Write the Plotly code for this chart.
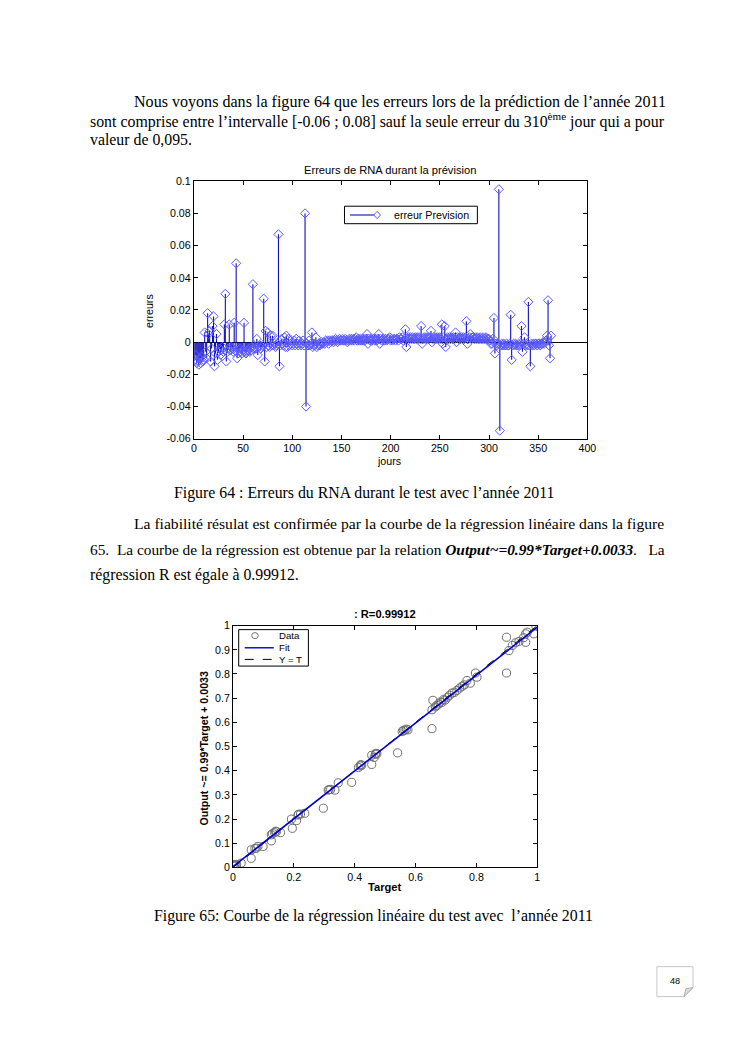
import plotly.graph_objects as go

W, H = 744, 1053

# ---------------- data: figure 64 (prediction errors per day) ----------------
errors = [
    -0.011, -0.008, -0.013, -0.012, -0.014, -0.010, -0.013, -0.009, -0.012, -0.011,
    0.006, -0.006, -0.010, 0.018, 0.005, 0.007, -0.012, -0.004, 0.010, 0.016,
    -0.015, -0.007, 0.005, -0.011, -0.006, -0.004, -0.008, -0.005, -0.003, -0.006,
    0.011, 0.030, -0.012, -0.006, -0.004, 0.011, -0.005, -0.003, -0.004, -0.006,
    0.012, -0.005, 0.049, -0.010, -0.007, -0.005, -0.004, -0.006, -0.007, -0.005,
    0.012, -0.006, -0.007, -0.006, -0.005, -0.004, -0.006, -0.005, -0.003, 0.036,
    -0.004, -0.003, -0.004, 0.002, -0.008, -0.003, -0.002, -0.004, -0.003, -0.002,
    0.027, -0.012, 0.007, -0.003, 0.006, -0.002, -0.003, 0.004, -0.002, 0.004,
    -0.002, -0.001, -0.003, -0.002, -0.001, 0.067, -0.015, -0.002, 0.002, -0.001,
    -0.002, 0.003, -0.003, 0.004, -0.003, 0.002, -0.002, -0.001, 0.001, -0.002,
    -0.001, 0.001, -0.002, 0.002, -0.001, -0.002, 0.001, -0.001, -0.002, -0.001,
    0.001, -0.002, 0.080, -0.040, -0.001, -0.002, 0.001, -0.002, -0.001, 0.006,
    -0.003, -0.002, -0.001, 0.003, -0.003, -0.002, -0.001, -0.002, -0.001, 0.000,
    -0.001, 0.000, -0.001, 0.001, 0.000, 0.001, -0.001, 0.001, 0.000, 0.001,
    0.001, 0.000, 0.001, 0.002, 0.001, 0.000, 0.001, 0.002, 0.001, 0.001,
    0.002, 0.001, 0.001, 0.002, 0.001, 0.000, 0.001, 0.002, 0.001, 0.002,
    0.001, 0.002, 0.001, 0.002, 0.003, 0.001, 0.002, 0.001, 0.002, 0.001,
    0.002, 0.001, 0.002, 0.001, 0.002, 0.005, -0.001, 0.002, 0.001, 0.002,
    0.001, 0.002, 0.002, 0.001, 0.002, 0.001, 0.002, 0.005, -0.001, 0.002,
    0.001, 0.002, 0.002, 0.001, 0.002, 0.001, 0.002, 0.002, 0.003, 0.001,
    0.002, 0.001, 0.002, 0.002, 0.001, 0.002, 0.002, 0.001, 0.003, 0.002,
    0.002, 0.003, 0.001, 0.002, 0.008, -0.003, 0.002, 0.003, 0.002, 0.003,
    0.002, 0.003, 0.002, 0.002, 0.003, 0.002, 0.003, 0.002, 0.003, 0.002,
    0.010, -0.001, 0.002, 0.003, 0.002, 0.003, 0.002, 0.003, 0.002, 0.003,
    0.007, 0.000, 0.002, 0.003, 0.002, 0.003, 0.002, 0.003, 0.002, 0.003,
    0.002, 0.011, -0.001, 0.003, 0.010, -0.003, 0.002, 0.003, 0.002, 0.003,
    0.002, 0.003, 0.002, 0.003, 0.002, 0.006, 0.000, 0.003, 0.002, 0.003,
    0.002, 0.003, 0.002, 0.003, 0.002, 0.003, 0.013, -0.001, 0.002, 0.003,
    0.005, 0.002, 0.003, 0.003, 0.002, 0.003, 0.002, 0.003, 0.002, 0.002,
    0.003, 0.002, 0.002, 0.003, 0.002, 0.002, 0.003, 0.002, 0.002, 0.002,
    0.001, -0.001, -0.001, 0.002, 0.015, -0.007, -0.001, -0.002, -0.001, 0.095,
    -0.055, -0.002, -0.001, -0.002, -0.001, -0.002, -0.002, -0.001, -0.002, -0.002,
    -0.001, 0.017, -0.011, -0.002, -0.001, -0.002, -0.001, -0.002, -0.002, -0.001,
    -0.002, -0.001, 0.010, -0.006, -0.001, 0.003, -0.002, -0.001, -0.002, 0.025,
    -0.002, -0.015, -0.001, -0.002, -0.001, -0.002, -0.001, -0.001, -0.002, -0.001,
    -0.001, -0.002, -0.001, -0.001, 0.000, -0.001, 0.000, 0.001, 0.004, 0.026,
    -0.002, -0.010, 0.004,
]
days = list(range(1, len(errors) + 1))
err_yticks = [0.1, 0.08, 0.06, 0.04, 0.02, 0, -0.02, -0.04, -0.06]
err_yticklabels = ["0.1", "0.08", "0.06", "0.04", "0.02", "0", "-0.02", "-0.04", "-0.06"]
err_xticks = [0, 50, 100, 150, 200, 250, 300, 350, 400]

# ---------------- data: figure 65 (regression) ----------------
target = [0.000, 0.003, 0.006, 0.010, 0.012, 0.027, 0.060, 0.060, 0.072, 0.077,
          0.082, 0.099, 0.126, 0.126, 0.130, 0.137, 0.140, 0.143, 0.156, 0.192,
          0.195, 0.209, 0.214, 0.215, 0.222, 0.236, 0.297, 0.313, 0.316, 0.321,
          0.335, 0.346, 0.390, 0.412, 0.418, 0.420, 0.423, 0.456, 0.456, 0.464,
          0.468, 0.470, 0.473, 0.541, 0.556, 0.560, 0.565, 0.570, 0.575, 0.654,
          0.654, 0.657, 0.665, 0.670, 0.676, 0.681, 0.686, 0.692, 0.697, 0.705,
          0.712, 0.720, 0.728, 0.736, 0.745, 0.753, 0.760, 0.769, 0.780, 0.797,
          0.802, 0.899, 0.899, 0.907, 0.918, 0.929, 0.940, 0.955, 0.962, 0.962,
          0.967, 0.989, 0.995]
output = [0.010, 0.006, 0.012, 0.008, 0.013, 0.018, 0.038, 0.073, 0.078, 0.080,
          0.087, 0.087, 0.110, 0.135, 0.140, 0.144, 0.150, 0.148, 0.144, 0.200,
          0.162, 0.194, 0.217, 0.220, 0.221, 0.224, 0.245, 0.320, 0.322, 0.323,
          0.320, 0.350, 0.352, 0.413, 0.420, 0.425, 0.423, 0.426, 0.464, 0.455,
          0.468, 0.472, 0.470, 0.474, 0.562, 0.567, 0.568, 0.572, 0.569, 0.574,
          0.652, 0.691, 0.664, 0.670, 0.676, 0.684, 0.682, 0.694, 0.692, 0.704,
          0.712, 0.721, 0.724, 0.732, 0.742, 0.749, 0.755, 0.773, 0.762, 0.804,
          0.787, 0.952, 0.804, 0.897, 0.918, 0.929, 0.935, 0.950, 0.931, 0.966,
          0.973, 0.966, 1.000]
fit_slope, fit_intercept = 0.99, 0.0033
line_x = [0, 1]
reg_ticks_x = [0, 0.2, 0.4, 0.6, 0.8, 1]
reg_ticks_y = [0, 0.1, 0.2, 0.3, 0.4, 0.5, 0.6, 0.7, 0.8, 0.9, 1]
reg_ticklabels_y = ["0", "0.1", "0.2", "0.3", "0.4", "0.5", "0.6", "0.7", "0.8", "0.9", "1"]
reg_ticklabels_x = ["0", "0.2", "0.4", "0.6", "0.8", "1"]

# compensation for the photographing transform (page px -> photo px)
SX, OX = 0.981, 4.0
SY, OY = 0.990, 5.0
FS = 1 / 0.985


def px(x):
    return ((x - OX) / SX) / W


def py(y):
    return 1 - ((y - OY) / SY) / H


def f(s):
    return s * FS


SANS = "Liberation Sans, Arial, sans-serif"
SERIF = "Liberation Serif, Times New Roman, serif"
STEM = "#1010b8"
DIAM = "#5a5aff"

fig = go.Figure()

# stems
sx, sy = [], []
for d, v in zip(days, errors):
    sx += [d, d, None]
    sy += [0, v, None]
fig.add_trace(go.Scatter(x=sx, y=sy, mode="lines", line=dict(color=STEM, width=1.1),
                         xaxis="x", yaxis="y", showlegend=False, hoverinfo="skip"))
fig.add_trace(go.Scatter(x=days, y=errors, mode="markers", name="erreur Prevision",
                         marker=dict(symbol="diamond-open", size=f(7), color=DIAM, line=dict(width=1)),
                         xaxis="x", yaxis="y", showlegend=False))

# regression
fig.add_trace(go.Scatter(x=target, y=output, mode="markers", name="Data",
                         marker=dict(symbol="circle-open", size=f(8), color="#707070", line=dict(width=1)),
                         xaxis="x2", yaxis="y2", showlegend=False))
fig.add_trace(go.Scatter(x=line_x, y=line_x, mode="lines", name="Y = T",
                         line=dict(color="black", width=1, dash="dash"),
                         xaxis="x2", yaxis="y2", showlegend=False))
fig.add_trace(go.Scatter(x=line_x, y=[fit_slope * t + fit_intercept for t in line_x], mode="lines",
                         name="Fit", line=dict(color="#0000d0", width=1.6),
                         xaxis="x2", yaxis="y2", showlegend=False))

axis_common = dict(showline=True, linecolor="black", linewidth=1, mirror="allticks",
                   ticks="inside", ticklen=4, tickcolor="black", showgrid=False,
                   tickfont=dict(family=SANS, size=f(10.5), color="black"))

fig.update_layout(
    width=W, height=H, autosize=False,
    margin=dict(l=0, r=0, t=0, b=0),
    paper_bgcolor="white", plot_bgcolor="white",
    xaxis=dict(domain=[px(194.3), px(586.7)], range=[0, 400], anchor="y",
               tickvals=err_xticks, zeroline=False, **axis_common),
    yaxis=dict(domain=[py(438.3), py(180.5)], range=[-0.06, 0.1], anchor="x",
               tickvals=err_yticks, ticktext=err_yticklabels,
               zeroline=True, zerolinecolor="black", zerolinewidth=1, **axis_common),
    xaxis2=dict(domain=[px(233.3), px(536.7)], range=[0, 1], anchor="y2",
                tickvals=reg_ticks_x, ticktext=reg_ticklabels_x, zeroline=False, **axis_common),
    yaxis2=dict(domain=[py(867.7), py(625.5)], range=[0, 1], anchor="x2",
                tickvals=reg_ticks_y, ticktext=reg_ticklabels_y, zeroline=False, **axis_common),
    showlegend=False,
)

ann = []


def text(x, y, s, size, family=SANS, xanchor="center", angle=0, color="black"):
    ann.append(dict(x=px(x), y=py(y), xref="paper", yref="paper", text=s, showarrow=False,
                    xanchor=xanchor, yanchor="middle", textangle=angle,
                    font=dict(family=family, size=f(size), color=color)))


# body text (justified lines get a font size that makes them fill the column)
BS = 15.6
text(133, 101, "Nous voyons dans la figure 64 que les erreurs lors de la prédiction de l’année 2011", 15.84, SERIF, "left")
text(89, 120, "sont comprise entre l’intervalle [-0.06 ; 0.08] sauf la seule erreur du 310<sup>ème</sup> jour qui a pour", 15.65, SERIF, "left")
text(89, 139, "valeur de 0,095.", BS, SERIF, "left")
text(364, 493, "Figure 64 : Erreurs du RNA durant le test avec l’année 2011", BS, SERIF)
text(133, 523, "La fiabilité résulat est confirmée par la courbe de la régression linéaire dans la figure", 15.4, SERIF, "left")
text(89, 549, "65.  La courbe de la régression est obtenue par la relation <b><i>Output~=0.99*Target+0.0033</i></b>.   La", 15.13, SERIF, "left")
text(89, 575, "régression R est égale à 0.99912.", BS, SERIF, "left")
text(373, 916, "Figure 65: Courbe de la régression linéaire du test avec  l’année 2011", BS, SERIF)

# chart 1 texts
text(389.5, 169.5, "Erreurs de RNA durant la prévision", 11)
text(389, 461, "jours", 10.5)
text(149, 310, "erreurs", 10.5, angle=-90)
# chart 1 legend
text(392, 214, "erreur Prevision", 10.5, xanchor="left")

# chart 2 texts
text(385, 614, "<b>: R=0.99912</b>", 11)
text(385, 887, "<b>Target</b>", 11)
text(204, 748, "<b>Output ~= 0.99*Target + 0.0033</b>", 10.5, angle=-90)
# chart 2 legend
text(277, 635.5, "Data", 9.5, xanchor="left")
text(277, 647.5, "Fit", 9.5, xanchor="left")
text(277, 659.5, "Y = T", 9.5, xanchor="left")

# page number
text(674, 981, "48", 9)

shapes = []


def pline(pts, close=True):
    s = " ".join(("M" if i == 0 else "L") + f" {px(x)},{py(y)}" for i, (x, y) in enumerate(pts))
    return s + (" Z" if close else "")


# legend 1 box + sample
shapes.append(dict(type="rect", xref="paper", yref="paper", x0=px(344.5), x1=px(477), y0=py(205.5), y1=py(223),
                   line=dict(color="black", width=1), fillcolor="white", layer="above"))
shapes.append(dict(type="line", xref="paper", yref="paper", x0=px(350), x1=px(377), y0=py(214.3), y1=py(214.3),
                   line=dict(color=STEM, width=1.1), layer="above"))
dx, dy = 3.4, 3.6
shapes.append(dict(type="path", xref="paper", yref="paper",
                   path=pline([(377 - dx, 214.3), (377, 214.3 - dy), (377 + dx, 214.3), (377, 214.3 + dy)]),
                   line=dict(color=DIAM, width=1), fillcolor="white", layer="above"))
# legend 2 box + samples
shapes.append(dict(type="rect", xref="paper", yref="paper", x0=px(239), x1=px(308.5), y0=py(629.5), y1=py(666),
                   line=dict(color="black", width=1), fillcolor="white", layer="above"))
shapes.append(dict(type="circle", xref="paper", yref="paper", x0=px(252), x1=px(258.5), y0=py(632.5), y1=py(638.5),
                   line=dict(color="#707070", width=1), layer="above"))
shapes.append(dict(type="line", xref="paper", yref="paper", x0=px(245), x1=px(274), y0=py(647.7), y1=py(647.7),
                   line=dict(color="#0000d0", width=1.4), layer="above"))
shapes.append(dict(type="line", xref="paper", yref="paper", x0=px(245), x1=px(274), y0=py(659.3), y1=py(659.3),
                   line=dict(color="black", width=1, dash="dash"), layer="above"))
# page number box with folded corner
shapes.append(dict(type="path", xref="paper", yref="paper",
                   path=pline([(656, 967), (692, 967), (692, 988), (683, 997), (656, 997)]),
                   line=dict(color="#c8c8c8", width=1), fillcolor="white", layer="below"))
shapes.append(dict(type="path", xref="paper", yref="paper",
                   path=pline([(683, 997), (685, 989), (692, 988)]),
                   line=dict(color="#b0b0b0", width=1), fillcolor="#dcdcdc", layer="below"))

fig.update_layout(annotations=ann, shapes=shapes)
fig.write_html("out.html",
               config={"displayModeBar": False},
               post_script="document.body.style.margin='0';document.body.style.padding='0';"
                           "document.documentElement.style.overflow='hidden';")
